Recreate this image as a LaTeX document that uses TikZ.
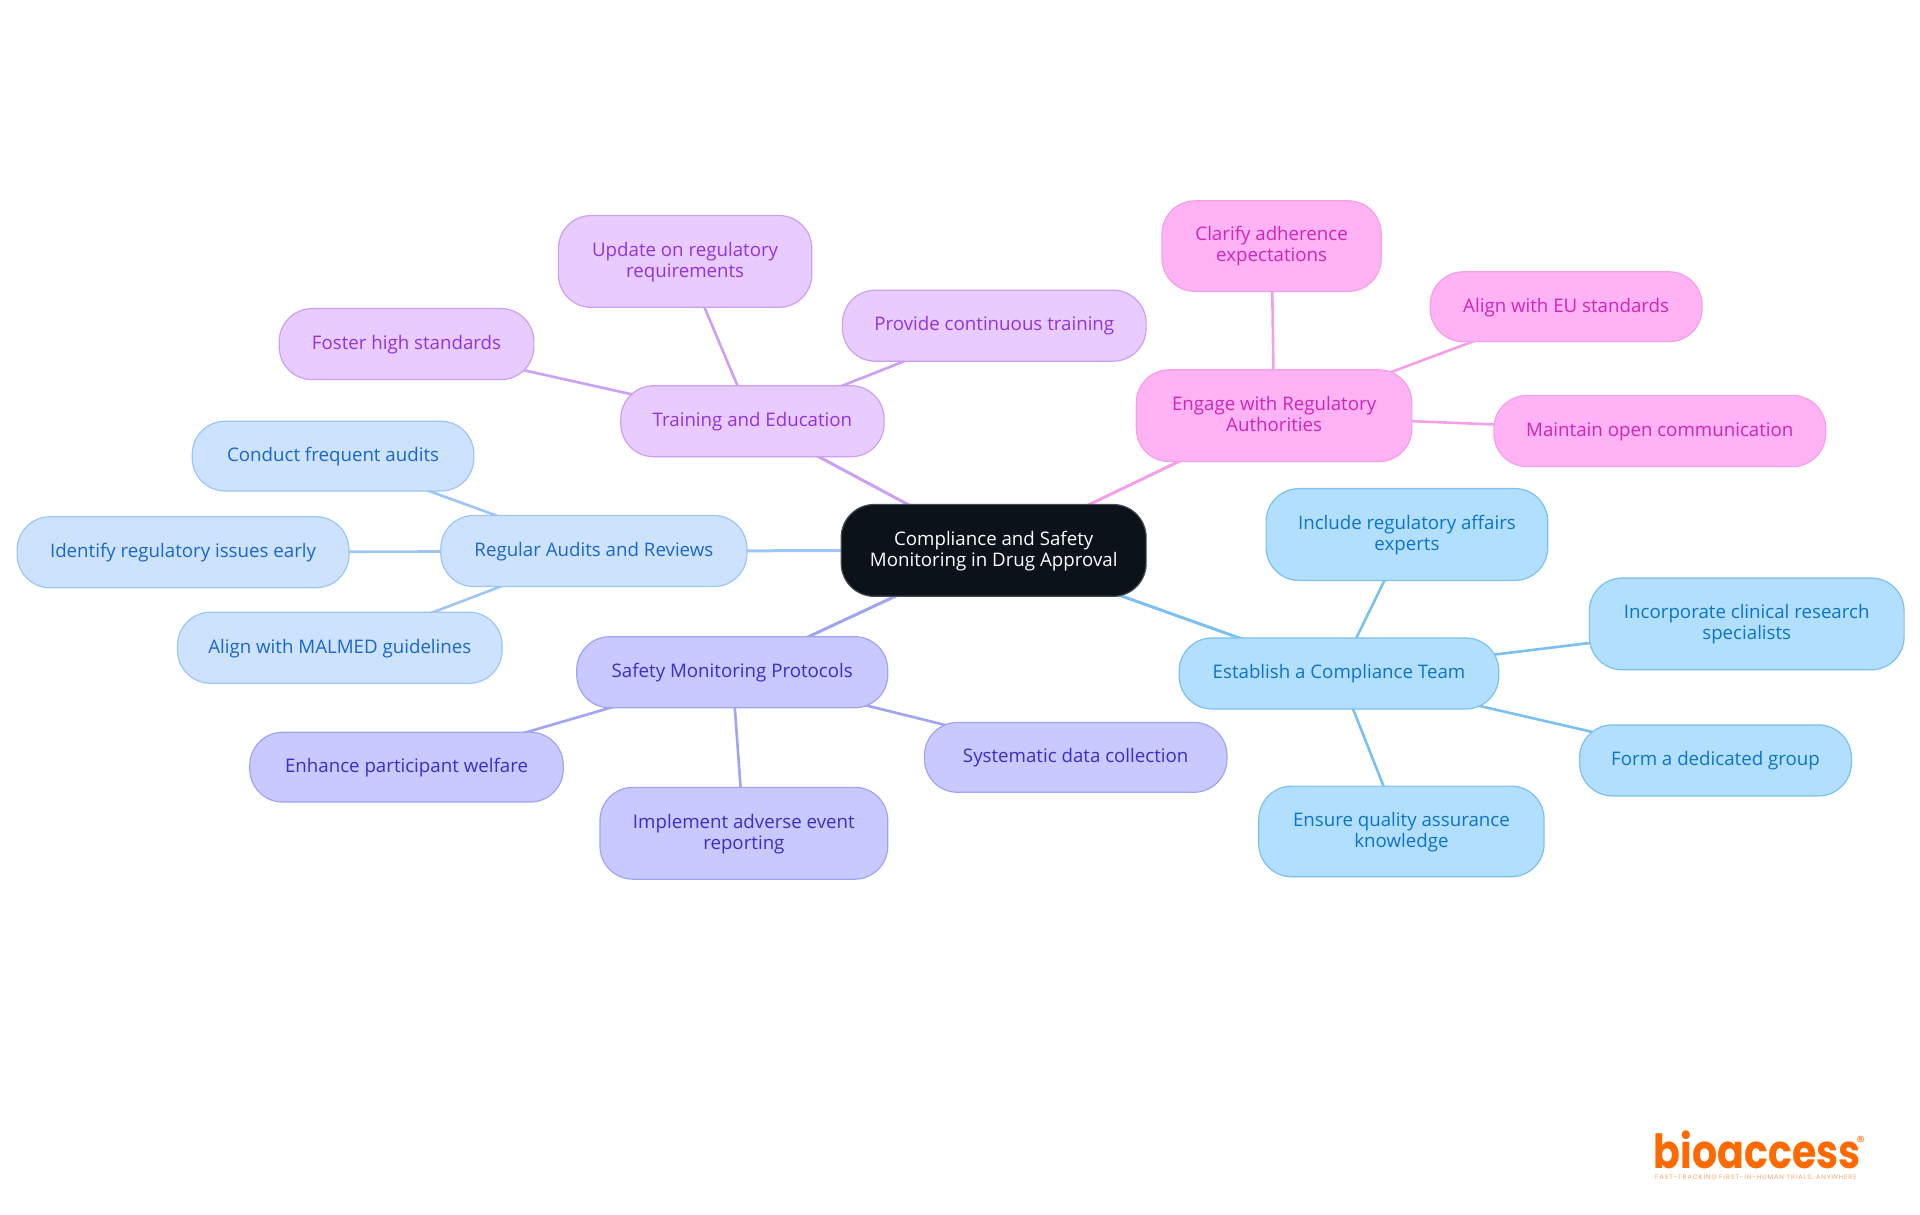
\documentclass[tikz,border=0pt]{standalone}
\usepackage{fontspec}
\setmainfont{Open Sans}
\newfontfamily\logofont{Poppins}
\newfontfamily\tagfont[LetterSpace=14]{Poppins}
\usetikzlibrary{backgrounds}
\definecolor{pinkF}{HTML}{FFB3F5}\definecolor{pinkS}{HTML}{F5A0E6}\definecolor{pinkT}{HTML}{D125B8}
\definecolor{purpF}{HTML}{E8CBFF}\definecolor{purpS}{HTML}{CBA0F5}\definecolor{purpT}{HTML}{9333DD}
\definecolor{blueF}{HTML}{CDE3FD}\definecolor{blueS}{HTML}{9DC5F5}\definecolor{blueT}{HTML}{1A66CC}
\definecolor{skyF}{HTML}{B3DFFF}\definecolor{skyS}{HTML}{7CC0F2}\definecolor{skyT}{HTML}{0C74C8}
\definecolor{indF}{HTML}{C7C9FF}\definecolor{indS}{HTML}{A0A4F5}\definecolor{indT}{HTML}{3730C8}
\definecolor{rootF}{HTML}{0B1219}\definecolor{rootS}{HTML}{45494E}
\definecolor{logoC}{HTML}{FF6A00}\definecolor{tagC}{HTML}{F9A56C}
\tikzset{
  mm/.style={draw,line width=1.2pt,rounded corners=33pt,inner sep=0pt,align=center,
    font=\fontsize{18.7}{21}\selectfont},
  rootn/.style={mm,fill=rootF,draw=rootS,text=white},
  pinkn/.style={mm,fill=pinkF,draw=pinkS,text=pinkT},
  purpn/.style={mm,fill=purpF,draw=purpS,text=purpT},
  bluen/.style={mm,fill=blueF,draw=blueS,text=blueT},
  skyn/.style={mm,fill=skyF,draw=skyS,text=skyT},
  indn/.style={mm,fill=indF,draw=indS,text=indT},
  main/.style={line width=3pt},
  leaf/.style={line width=2.6pt},
}
% name, style, x0, x1, y0, y1, text (reference coordinates at 1568 wide)
\newcommand{\mmnode}[7]{%
  \node[#2,minimum width={(#4-#3)*1.2245pt},minimum height={(#6-#5)*1.2245pt}] (#1)
    at ({(#3+#4)/2},{(#5+#6)/2}) {\smash{\raisebox{-5.4pt}{\begin{tabular}{@{}c@{}}#7\end{tabular}}}};}
\begin{document}
\begin{tikzpicture}[x=1.2245pt,y=-1.2245pt]
\useasboundingbox (0,0) rectangle (1568,992.2);
\mmnode{root}{rootn}{687}{936}{412}{487}{Compliance and Safety\\Monitoring in Drug Approval}
\mmnode{train}{purpn}{507}{722}{315}{373}{Training and Education}
\mmnode{update}{purpn}{456}{663}{176}{251}{Update on regulatory\\requirements}
\mmnode{foster}{purpn}{228}{436}{252}{310}{Foster high standards}
\mmnode{provide}{purpn}{688}{936}{237}{295}{Provide continuous training}
\mmnode{engage}{pinkn}{928}{1153}{302}{377}{Engage with Regulatory\\Authorities}
\mmnode{clarify}{pinkn}{949}{1128}{164}{238}{Clarify adherence\\expectations}
\mmnode{aligneu}{pinkn}{1168}{1390}{222}{279}{Align with EU standards}
\mmnode{maintain}{pinkn}{1220}{1491}{323}{381}{Maintain open communication}
\mmnode{regular}{bluen}{360}{610}{421}{479}{Regular Audits and Reviews}
\mmnode{conduct}{bluen}{157}{387}{344}{401}{Conduct frequent audits}
\mmnode{identify}{bluen}{14}{285}{422}{480}{Identify regulatory issues early}
\mmnode{malmed}{bluen}{145}{410}{500}{558}{Align with MALMED guidelines}
\mmnode{safety}{indn}{471}{725}{520}{578}{Safety Monitoring Protocols}
\mmnode{enhance}{indn}{204}{460}{598}{655}{Enhance participant welfare}
\mmnode{implement}{indn}{490}{725}{643}{718}{Implement adverse event\\reporting}
\mmnode{systematic}{indn}{755}{1002}{590}{647}{Systematic data collection}
\mmnode{establish}{skyn}{963}{1224}{521}{579}{Establish a Compliance Team}
\mmnode{include}{skyn}{1034}{1264}{399}{474}{Include regulatory affairs\\experts}
\mmnode{incorporate}{skyn}{1298}{1555}{472}{547}{Incorporate clinical research\\specialists}
\mmnode{formgroup}{skyn}{1290}{1512}{592}{650}{Form a dedicated group}
\mmnode{ensure}{skyn}{1028}{1261}{642}{716}{Ensure quality assurance\\knowledge}
\begin{scope}[on background layer]
\draw[main,purpS] (root.center) -- (train.center);
\draw[main,pinkS] (root.center) -- (engage.center);
\draw[main,blueS] (root.center) -- (regular.center);
\draw[main,indS] (root.center) -- (safety.center);
\draw[main,skyS] (root.center) -- (establish.center);
\draw[leaf,purpS] (train.center) -- (update.center);
\draw[leaf,purpS] (train.center) -- (foster.center);
\draw[leaf,purpS] (train.center) -- (provide.center);
\draw[leaf,pinkS] (engage.center) -- (clarify.center);
\draw[leaf,pinkS] (engage.center) -- (aligneu.center);
\draw[leaf,pinkS] (engage.center) -- (maintain.center);
\draw[leaf,blueS] (regular.center) -- (conduct.center);
\draw[leaf,blueS] (regular.center) -- (identify.center);
\draw[leaf,blueS] (regular.center) -- (malmed.center);
\draw[leaf,indS] (safety.center) -- (enhance.center);
\draw[leaf,indS] (safety.center) -- (implement.center);
\draw[leaf,indS] (safety.center) -- (systematic.center);
\draw[leaf,skyS] (establish.center) -- (include.center);
\draw[leaf,skyS] (establish.center) -- (incorporate.center);
\draw[leaf,skyS] (establish.center) -- (formgroup.center);
\draw[leaf,skyS] (establish.center) -- (ensure.center);
\end{scope}
\node[inner sep=0pt,anchor=base west,text=logoC] (logo) at (1350.5,954.5) {\scalebox{0.84}[1]{\logofont\bfseries\fontsize{47}{47}\selectfont bioaccess}};
\node[inner sep=0pt,anchor=center,text=logoC,font=\logofont\fontsize{16}{16}\selectfont] (reg) at (1519.5,932.5) {®};
\node[inner sep=0pt,anchor=base west,text=tagC,font=\tagfont\fontsize{6.5}{7}\selectfont] (tag) at (1351.5,963) {FAST-TRACKING FIRST-IN-HUMAN TRIALS, ANYWHERE};
\end{tikzpicture}
\end{document}
